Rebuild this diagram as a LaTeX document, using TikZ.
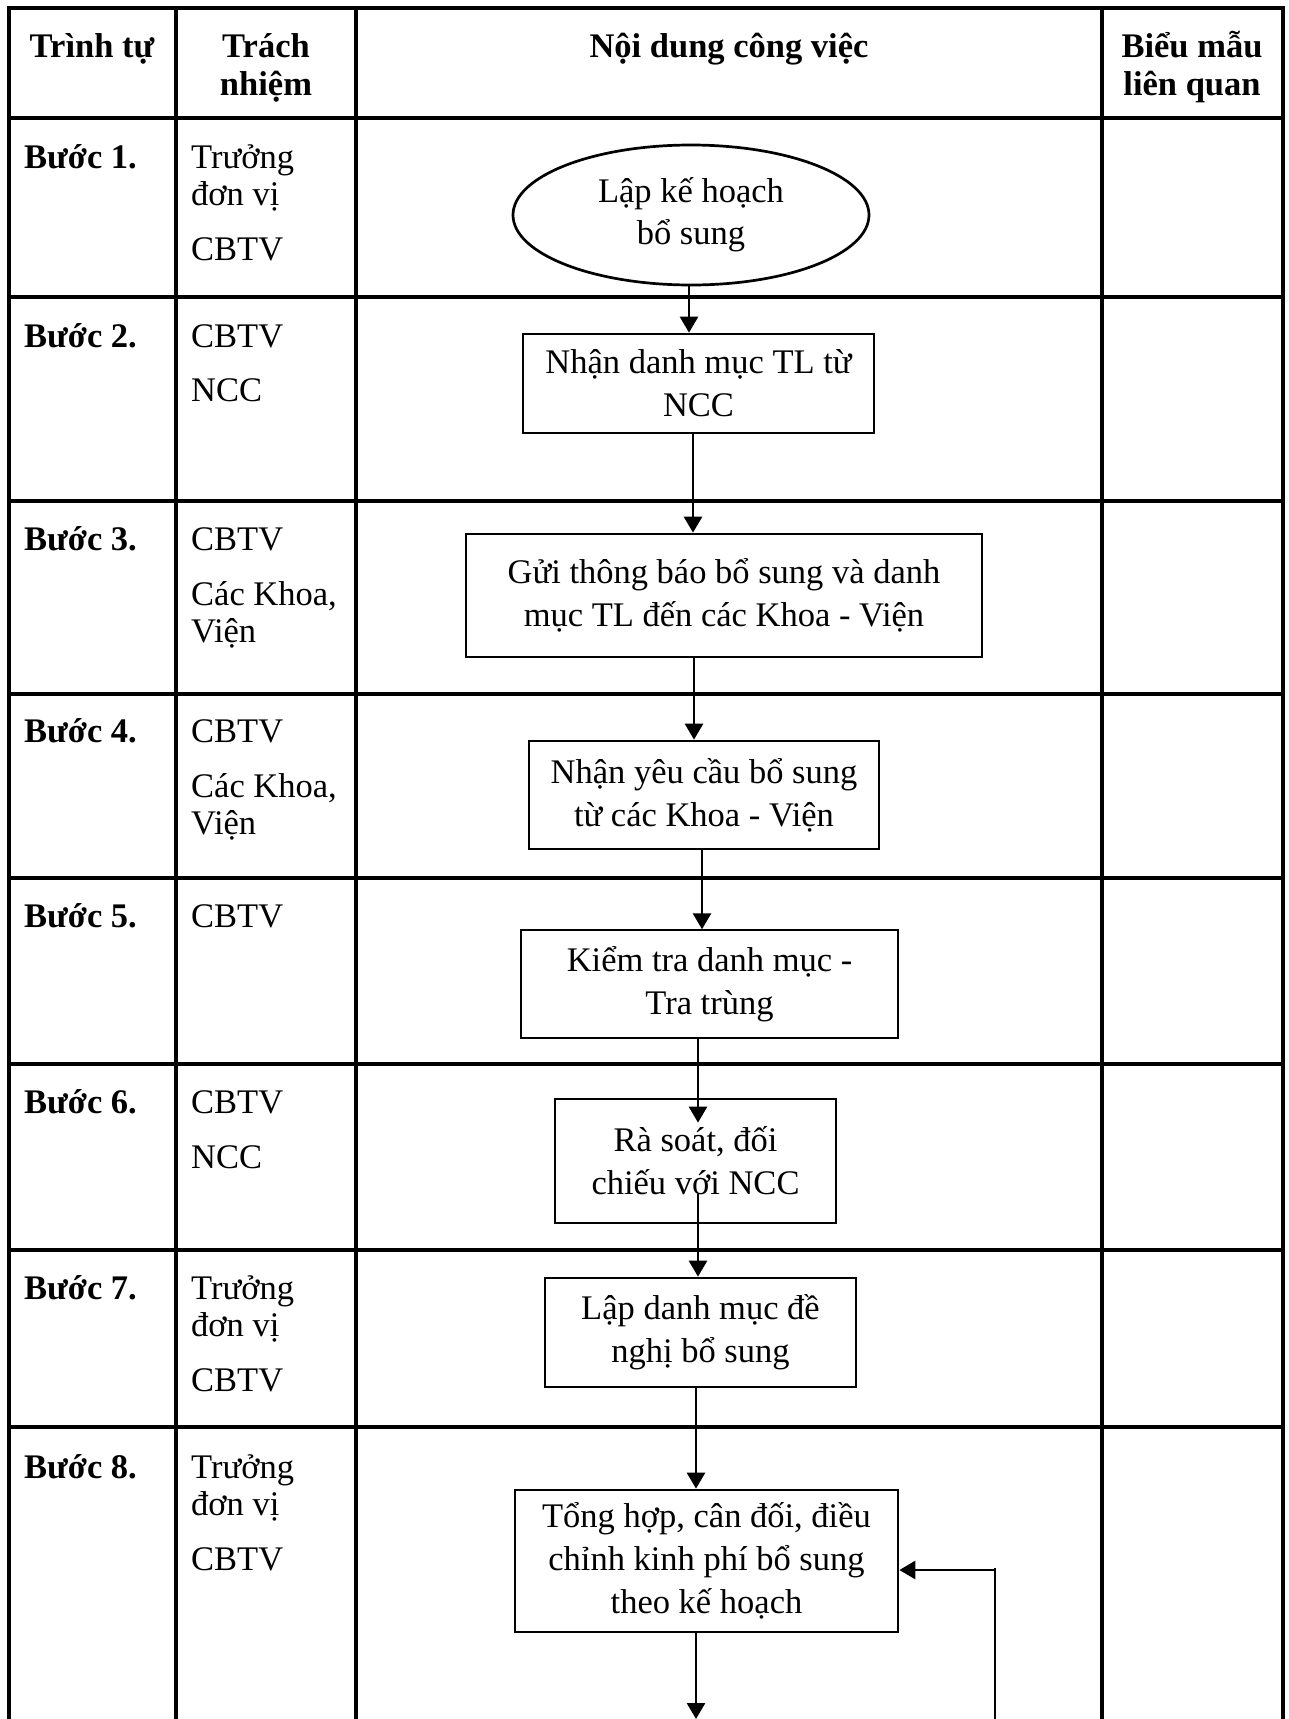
\documentclass[tikz,border=0pt]{standalone}
\usepackage{fontspec}
\setmainfont{Liberation Serif}
\usetikzlibrary{arrows.meta}
\usetikzlibrary{shapes.geometric}
\usetikzlibrary{calc}

\begin{document}
\begin{tikzpicture}[x=1pt, y=-1pt,
    rule/.style={line width=3.4pt, line cap=rect},
    box/.style={draw, line width=2.7pt, inner sep=0pt, align=center, font=\fontsize{34.5}{43}\selectfont},
    oval/.style={ellipse, draw, line width=2.7pt, inner sep=0pt, align=center, font=\fontsize{34.5}{42}\selectfont},
    arr/.style={line width=2.7pt, -{Triangle[length=16pt,width=18pt]}},
    thinline/.style={line width=1.2pt},
    head/.style={anchor=base, inner sep=0pt, align=center, font=\bfseries\fontsize{34.5}{38}\selectfont},
    steplabel/.style={anchor=base west, inner sep=0pt, font=\bfseries\fontsize{34.5}{38}\selectfont},
    who/.style={anchor=base west, inner sep=0pt, align=left, font=\fontsize{34.5}{37}\selectfont}]

    \useasboundingbox (0,0) rectangle (1288,1719);

    % table grid
    \foreach \x in {9,176,356,1102,1283}
      \draw[rule] (\x,8) -- (\x,1719);
    \foreach \y in {8,118,297,501,694,878,1064,1250,1427}
      \draw[rule] (9,\y) -- (1283,\y);

    % header (base = last line)
    \node[head] (h1) at (92,57) {Trình tự};
    \node[head] (h2) at (266,95) {Trách\\nhiệm};
    \node[head] (h3) at (729,57) {Nội dung công việc};
    \node[head] (h4) at (1192,95) {Biểu mẫu\\liên quan};

    % steps and who does them (base = last line)
    \foreach \i/\y in {1/168,2/347,3/550,4/742,5/927,6/1113,7/1299,8/1478}
      \node[steplabel] (b\i) at (24,\y) {Bước \i.};

    \node[who] (p1) at (191,260) {Trưởng\\đơn vị\\[18pt]CBTV};
    \node[who] (p2) at (191,401) {CBTV\\[17pt]NCC};
    \node[who] (p3) at (191,642) {CBTV\\[18pt]Các Khoa,\\Viện};
    \node[who] (p4) at (191,834) {CBTV\\[18pt]Các Khoa,\\Viện};
    \node[who] (p5) at (191,927) {CBTV};
    \node[who] (p6) at (191,1168) {CBTV\\[18pt]NCC};
    \node[who] (p7) at (191,1391) {Trưởng\\đơn vị\\[18pt]CBTV};
    \node[who] (p8) at (191,1570) {Trưởng\\đơn vị\\[18pt]CBTV};

    % flow
    \node[oval, minimum width=356pt, minimum height=140pt] (e1) at (691,215) {Lập kế hoạch\\bổ sung};
    \node[box, minimum width=351pt, minimum height=99pt] (n2) at (698.5,383.5) {Nhận danh mục TL từ\\NCC};
    \node[box, minimum width=516pt, minimum height=123pt] (n3) at (724,595.5) {Gửi thông báo bổ sung và danh\\mục TL đến các Khoa - Viện};
    \node[box, minimum width=350pt, minimum height=108pt] (n4) at (704,795) {Nhận yêu cầu bổ sung\\từ các Khoa - Viện};
    \node[box, line width=1.4pt, minimum width=377pt, minimum height=108pt] (n5) at (709.5,984) {Kiểm tra danh mục -\\Tra trùng};
    \node[box, minimum width=281pt, minimum height=124pt] (n6) at (695.5,1161) {Rà soát, đối\\chiếu với NCC};
    \node[box, minimum width=311pt, minimum height=109pt] (n7) at (700.5,1332.5) {Lập danh mục đề\\nghị bổ sung};
    \node[box, minimum width=383pt, minimum height=142pt] (n8) at (706.5,1561) {Tổng hợp, cân đối, điều\\chỉnh kinh phí bổ sung\\theo kế hoạch};

    % arrow spines
    \coordinate (bot) at (0,1719);
    \coordinate (r3) at (0,501);
    \coordinate (fb) at (995,1570);
    \foreach \n/\x in {a1/689,a2/693,a3/694,a4/702,a5/698,a6/698,a7/696,a8/696}
      \coordinate (\n) at (\x,0);

    % arrows
    \draw[arr] (a1 |- e1.south) -- (a1 |- n2.north);
    \draw[thinline] (a2 |- n2.south) -- (a2 |- r3);
    \draw[arr] (a2 |- r3) -- (a2 |- n3.north);
    \draw[arr] (a3 |- n3.south) -- (a3 |- n4.north);
    \draw[arr] (a4 |- n4.south) -- (a4 |- n5.north);
    \draw[arr] (a5 |- n5.south) -- ($(a5 |- n6.north)+(0,25)$);
    \draw[arr] ($(a6 |- n6.south)+(0,-30)$) -- (a6 |- n7.north);
    \draw[arr] (a7 |- n7.south) -- (a7 |- n8.north);
    \draw[arr] (a8 |- n8.south) -- (a8 |- bot);
    \draw[thinline] (fb |- bot) -- ($(fb)+(0,-2)$);
    \draw[arr] (fb) -- (n8.east |- fb);

\end{tikzpicture}
\end{document}
